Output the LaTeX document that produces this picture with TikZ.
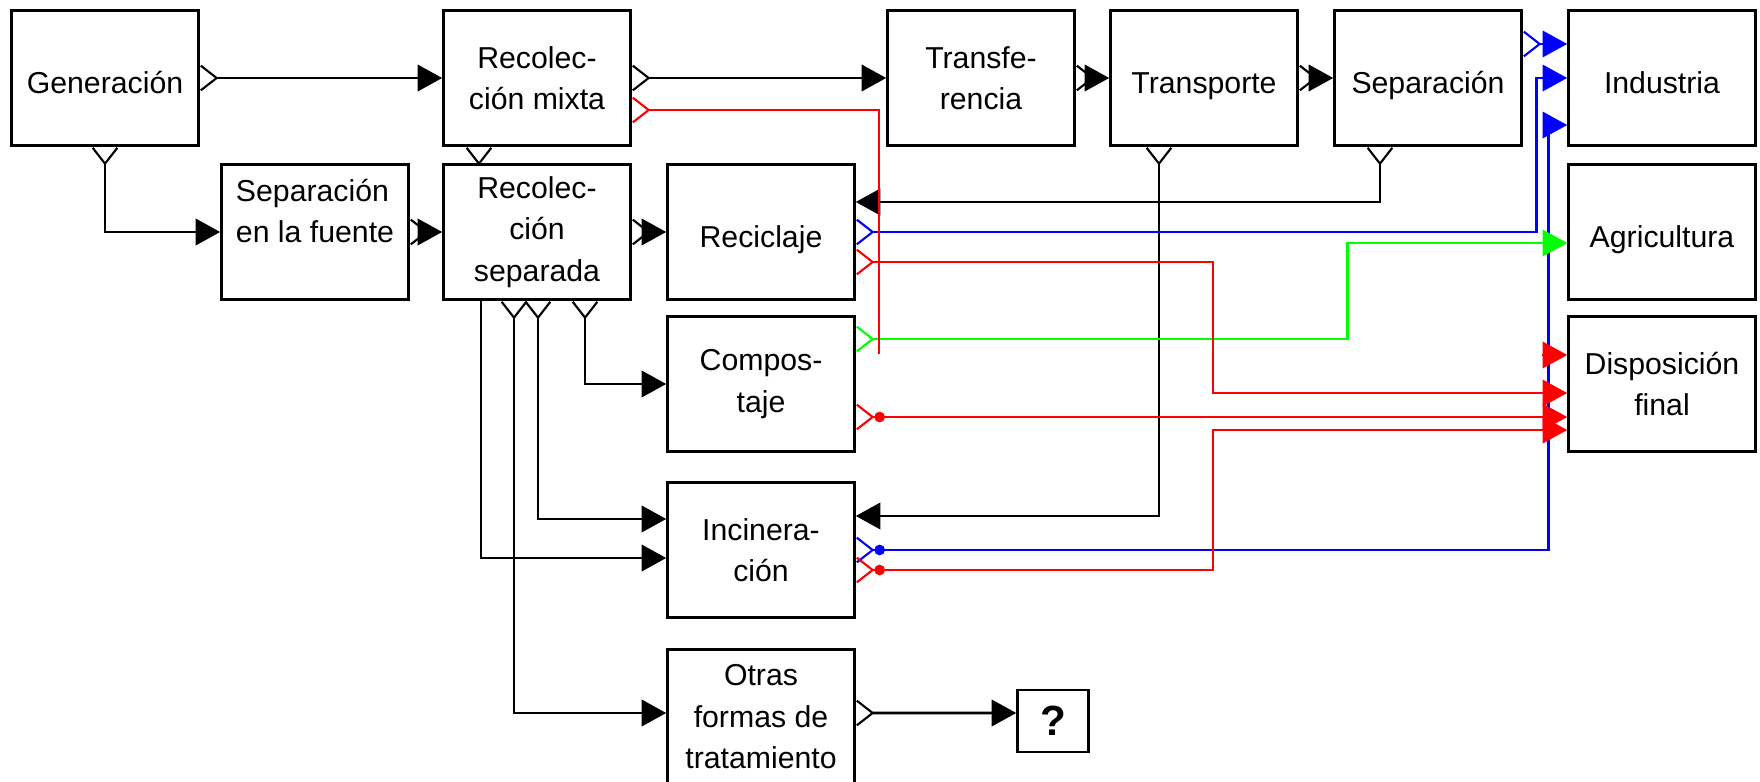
\documentclass[tikz,border=0pt]{standalone}
\usepackage{fontspec}
\setmainfont{Liberation Sans}
\usetikzlibrary{arrows.meta}

\tikzset{
  crow/.tip={Straight Barb[reversed,length=4.5pt,width=7pt,line width=0.6pt]},
  crowdot/.tip={Circle[length=3pt]
    Straight Barb[reversed,length=4.5pt,width=7pt,line width=0.6pt]},
  head/.tip={Triangle[length=7pt,width=7.5pt]}
}

\begin{document}
\begin{tikzpicture}[
  x=0.01cm, y=-0.01cm,
  box/.style={draw, line width=0.7pt, minimum width=1.87cm, minimum height=1.35cm,
    inner sep=1pt, align=center, font=\fontsize{8.6}{11.8}\selectfont},
  one/.style={text height=0.36cm, text depth=0.05cm},
  qbox/.style={draw, line width=0.7pt, minimum width=0.71cm, minimum height=0.62cm,
    inner sep=0pt, font=\bfseries\fontsize{12}{14}\selectfont},
  flow/.style={line width=0.8pt, {crow}-{head}},
  cflow/.style={line width=0.7pt, color=#1, {crow}-{head}},
  dflow/.style={line width=0.7pt, color=#1, {crowdot}-{head}}
]
  \useasboundingbox (0,0) rectangle (1760,782);

  \node[box, one] (gen) at (105,78) {Generación};
  \node[box] (rm) at (537,78) {Recolec-\\ción mixta};
  \node[box] (tf) at (981,78) {Transfe-\\rencia};
  \node[box, one] (tp) at (1204,78) {Transporte};
  \node[box, one] (sep) at (1428,78) {Separación};
  \node[box, one] (ind) at (1662,78) {Industria};
  \node[box, align=left, text depth=0.42cm] (sf) at (315,232) {Separación\\en la fuente};
  \node[box] (rs) at (537,232) {Recolec-\\ción\\separada};
  \node[box, one] (rec) at (761,232) {Reciclaje};
  \node[box, one] (agr) at (1662,232) {Agricultura};
  \node[box] (com) at (761,384) {Compos-\\taje};
  \node[box] (df) at (1662,384) {Disposición\\final};
  \node[box] (inc) at (761,550) {Incinera-\\ción};
  \node[box] (otr) at (761,717) {Otras\\formas de\\tratamiento};
  \node[qbox] (q) at (1053,721) {?};

  \draw[flow] (gen.east) -- (rm.west);
  \draw[flow] (rm.east) -- (tf.west);
  \draw[flow] (tf.east) -- (tp.west);
  \draw[flow] (tp.east) -- (sep.west);
  \draw[flow] (gen.south) |- (sf.west);
  \draw[flow] (sf.east) -- (rs.west);
  \draw[flow] (rs.east) -- (rec.west);
  \draw[flow] ([xshift=-0.48cm]sep.south) |- ([yshift=0.3cm]rec.east);
  \draw[flow] ([xshift=-0.45cm]tp.south) |- ([yshift=0.34cm]inc.east);
  \draw[line width=0.8pt, {crow}-] ([xshift=-0.58cm]rm.south) -- ([xshift=-0.58cm]rs.north);
  \draw[line width=0.8pt, -{head}] ([xshift=-0.56cm]rs.south) |- ([yshift=-0.08cm]inc.west);
  \draw[flow] ([xshift=-0.23cm]rs.south) |- ([yshift=0.04cm]otr.west);
  \draw[flow] ([xshift=0.01cm]rs.south) |- ([yshift=0.31cm]inc.west);
  \draw[flow] ([xshift=0.48cm]rs.south) |- (com.west);
  \draw[flow] ([yshift=0.04cm]otr.east) -- ([yshift=0.08cm]q.west);

  \draw[cflow=blue] ([yshift=0.34cm]sep.east) -- ([yshift=0.34cm]ind.west);
  \draw[cflow=blue] (rec.east) -- ++(680.5,0) |- (ind.west);
  \draw[dflow=blue] (inc.east) -- ++(692.5,0) |- ([yshift=-0.47cm]ind.west);
  \draw[cflow=green] ([yshift=0.45cm]com.east) -- ++(491.5,0) |- ([yshift=-0.11cm]agr.west);

  \coordinate (rstub) at (879,354);
  \draw[line width=0.7pt, red, {crow}-] ([yshift=-0.32cm]rm.east) -| (rstub);
  \draw[cflow=red] ([yshift=-0.3cm]rec.east) -- ++(357,0) |- ([yshift=-0.09cm]df.west);
  \draw[dflow=red] ([yshift=-0.33cm]com.east) -- ([yshift=-0.33cm]df.west);
  \draw[dflow=red] ([yshift=-0.2cm]inc.east) -- ++(357,0) |- ([yshift=-0.46cm]df.west);
  \draw[line width=0.7pt, red, -{head}] ([xshift=-0.25cm,yshift=0.29cm]df.west) -- ([yshift=0.29cm]df.west);
\end{tikzpicture}
\end{document}
